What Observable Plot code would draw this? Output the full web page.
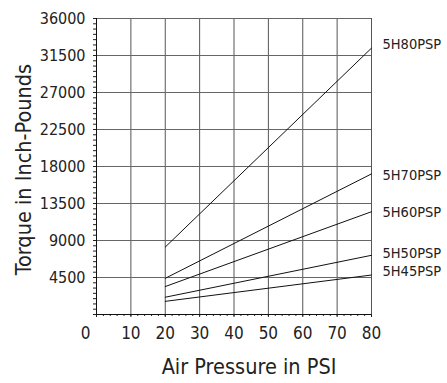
<!DOCTYPE html>
<html>
<head>
<meta charset="utf-8">
<script src="https://cdn.jsdelivr.net/npm/d3@7"></script>
<script src="https://cdn.jsdelivr.net/npm/@observablehq/plot@0.6"></script>
<style>
  html, body { margin: 0; padding: 0; background: #fff; }
  #chart svg { display: block; }
</style>
</head>
<body>
<div id="chart"></div>
<script>
// Data
const models = ["5H80PSP", "5H70PSP", "5H60PSP", "5H50PSP", "5H45PSP"];
const pressureStart = [20, 20, 20, 20, 20];
const pressureEnd = [80, 80, 80, 80, 80];
const torqueStart = [8200, 4400, 3400, 2100, 1600];
const torqueEnd = [32400, 17100, 12500, 7200, 4800];
const labelTorque = [32800, 16900, 12400, 7400, 5300];

const xTicks = [0, 10, 20, 30, 40, 50, 60, 70, 80];
const yTicks = [4500, 9000, 13500, 18000, 22500, 27000, 31500, 36000];
const xMinor = d3.range(0, 80.001, 2);
const yMinor = d3.range(0, 36000.001, 4500 / 7);

const lines = [];
models.forEach((m, i) => {
  lines.push({model: m, x: pressureStart[i], y: torqueStart[i]});
  lines.push({model: m, x: pressureEnd[i], y: torqueEnd[i]});
});
const labels = models.map((m, i) => ({model: m, x: 80, y: labelTorque[i]}));

const font = "'Liberation Sans Narrow', 'Arial Narrow', 'DejaVu Sans Condensed', sans-serif";

const chart = Plot.plot({
  width: 447,
  height: 383,
  marginLeft: 96,
  marginRight: 76,
  marginTop: 18,
  marginBottom: 69,
  style: {fontFamily: font, color: "#222", background: "#fff"},
  x: {domain: [0, 80], axis: null},
  y: {domain: [0, 36000], axis: null},
  marks: [
    Plot.gridX(xTicks.filter(d => d > 0), {stroke: "#555", strokeOpacity: 1}),
    Plot.gridY(yTicks, {stroke: "#666", strokeOpacity: 1}),
    Plot.axisY({ticks: yMinor, tickSize: 3, text: null, label: null, stroke: "#222"}),
    Plot.axisX({ticks: xMinor, tickSize: 2, text: null, label: null, stroke: "#222"}),
    Plot.axisX({ticks: xTicks, tickSize: 3, text: null, label: null, stroke: "#222"}),
    Plot.ruleX([0], {stroke: "#111"}),
    Plot.ruleY([0], {stroke: "#111"}),
    Plot.line(lines, {x: "x", y: "y", z: "model", stroke: "#111", strokeWidth: 1}),
    Plot.text(labels, {x: "x", y: "y", text: "model", textAnchor: "start", dx: 11, fontSize: 14.5, fill: "#222"}),
    Plot.text(yTicks, {y: d => d, text: d => String(d), frameAnchor: "left", textAnchor: "end", dx: -11, fontSize: 16, fill: "#222"}),
    Plot.text(xTicks.filter(d => d === 0), {x: d => d, text: d => String(d), frameAnchor: "bottom", dy: 24, dx: -11, fontSize: 17, fill: "#222"}),
    Plot.text(xTicks.filter(d => d > 0), {x: d => d, text: d => String(d), frameAnchor: "bottom", dy: 24, fontSize: 17, fill: "#222"}),
    Plot.text(["Air Pressure in PSI"], {text: d => d, frameAnchor: "bottom", dy: 59, dx: 15, fontSize: 21.5, fill: "#222"}),
    Plot.text(["Torque in Inch-Pounds"], {text: d => d, frameAnchor: "left", textAnchor: "middle", dx: -72, dy: 3, rotate: -90, fontSize: 21.5, fill: "#222"})
  ]
});
document.getElementById("chart").appendChild(chart);
</script>
</body>
</html>
